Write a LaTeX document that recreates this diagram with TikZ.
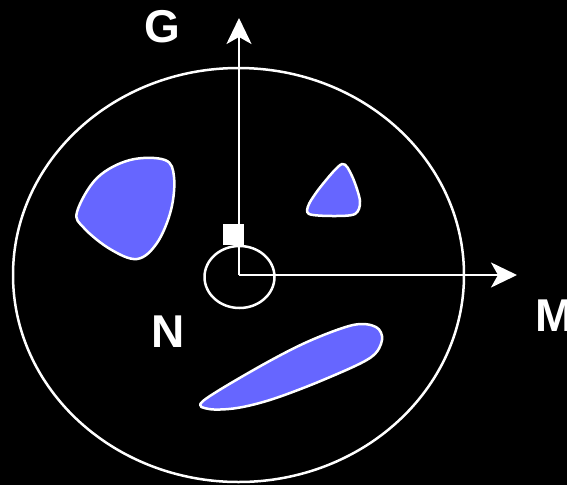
\documentclass[tikz,border=0pt]{standalone}
\usepackage{fontspec}
\setmainfont{Liberation Sans}
\usetikzlibrary{arrows.meta}
\definecolor{blobblue}{RGB}{102,102,255}
\begin{document}
\begin{tikzpicture}[x=1pt,y=-1pt,
  outline/.style={draw=white,line width=2.5pt},
  axis/.style={draw=white,line width=2.5pt,-{Stealth[length=26pt,width=25pt,inset=7pt]}},
  blobshape/.style={fill=blobblue,draw=white,line width=2.5pt,line join=round},
  lbl/.style={text=white,font=\bfseries\fontsize{46}{46}\selectfont,inner sep=0pt}]
\fill[black] (0,0) rectangle (567,485);
\useasboundingbox (0,0) rectangle (567,485);
% outer ellipse
\draw[outline] (238.5,275) ellipse [x radius=225.5pt, y radius=207pt];
% blobs
\draw[blobshape] plot[smooth cycle, tension=0.6] coordinates
  {(77,212) (97,178) (130,160) (165,160) (174,177) (171,210) (157,243) (137,259) (110,249) (84,228)};
\draw[blobshape] plot[smooth cycle, tension=0.5] coordinates
  {(342,164) (352,176) (360,201) (355,214) (333,216) (309,214) (309,204) (322,185)};
\draw[blobshape] plot[smooth cycle, tension=0.55] coordinates
  {(203,401) (257,368) (307,342) (353,325) (376,327) (382,340) (370,358) (323,380) (273,399) (237,408) (209,409)};
% origin and axes
\coordinate (O) at (239,275);
\coordinate (Gend) at (239,18);
\coordinate (Mend) at (517,275);
\draw[outline] (239.5,277) ellipse [x radius=35pt, y radius=31pt];
\draw[axis] (O) -- (Gend);
\draw[axis] (O) -- (Mend);
\node[fill=white,minimum size=21pt,inner sep=0pt] (sq) at (233.5,234.5) {};
% labels
\node[lbl] (G) at (162,27) {G};
\node[lbl] (N) at (168,331.5) {N};
\node[lbl] (M) at (555,316) {M};
\end{tikzpicture}
\end{document}
